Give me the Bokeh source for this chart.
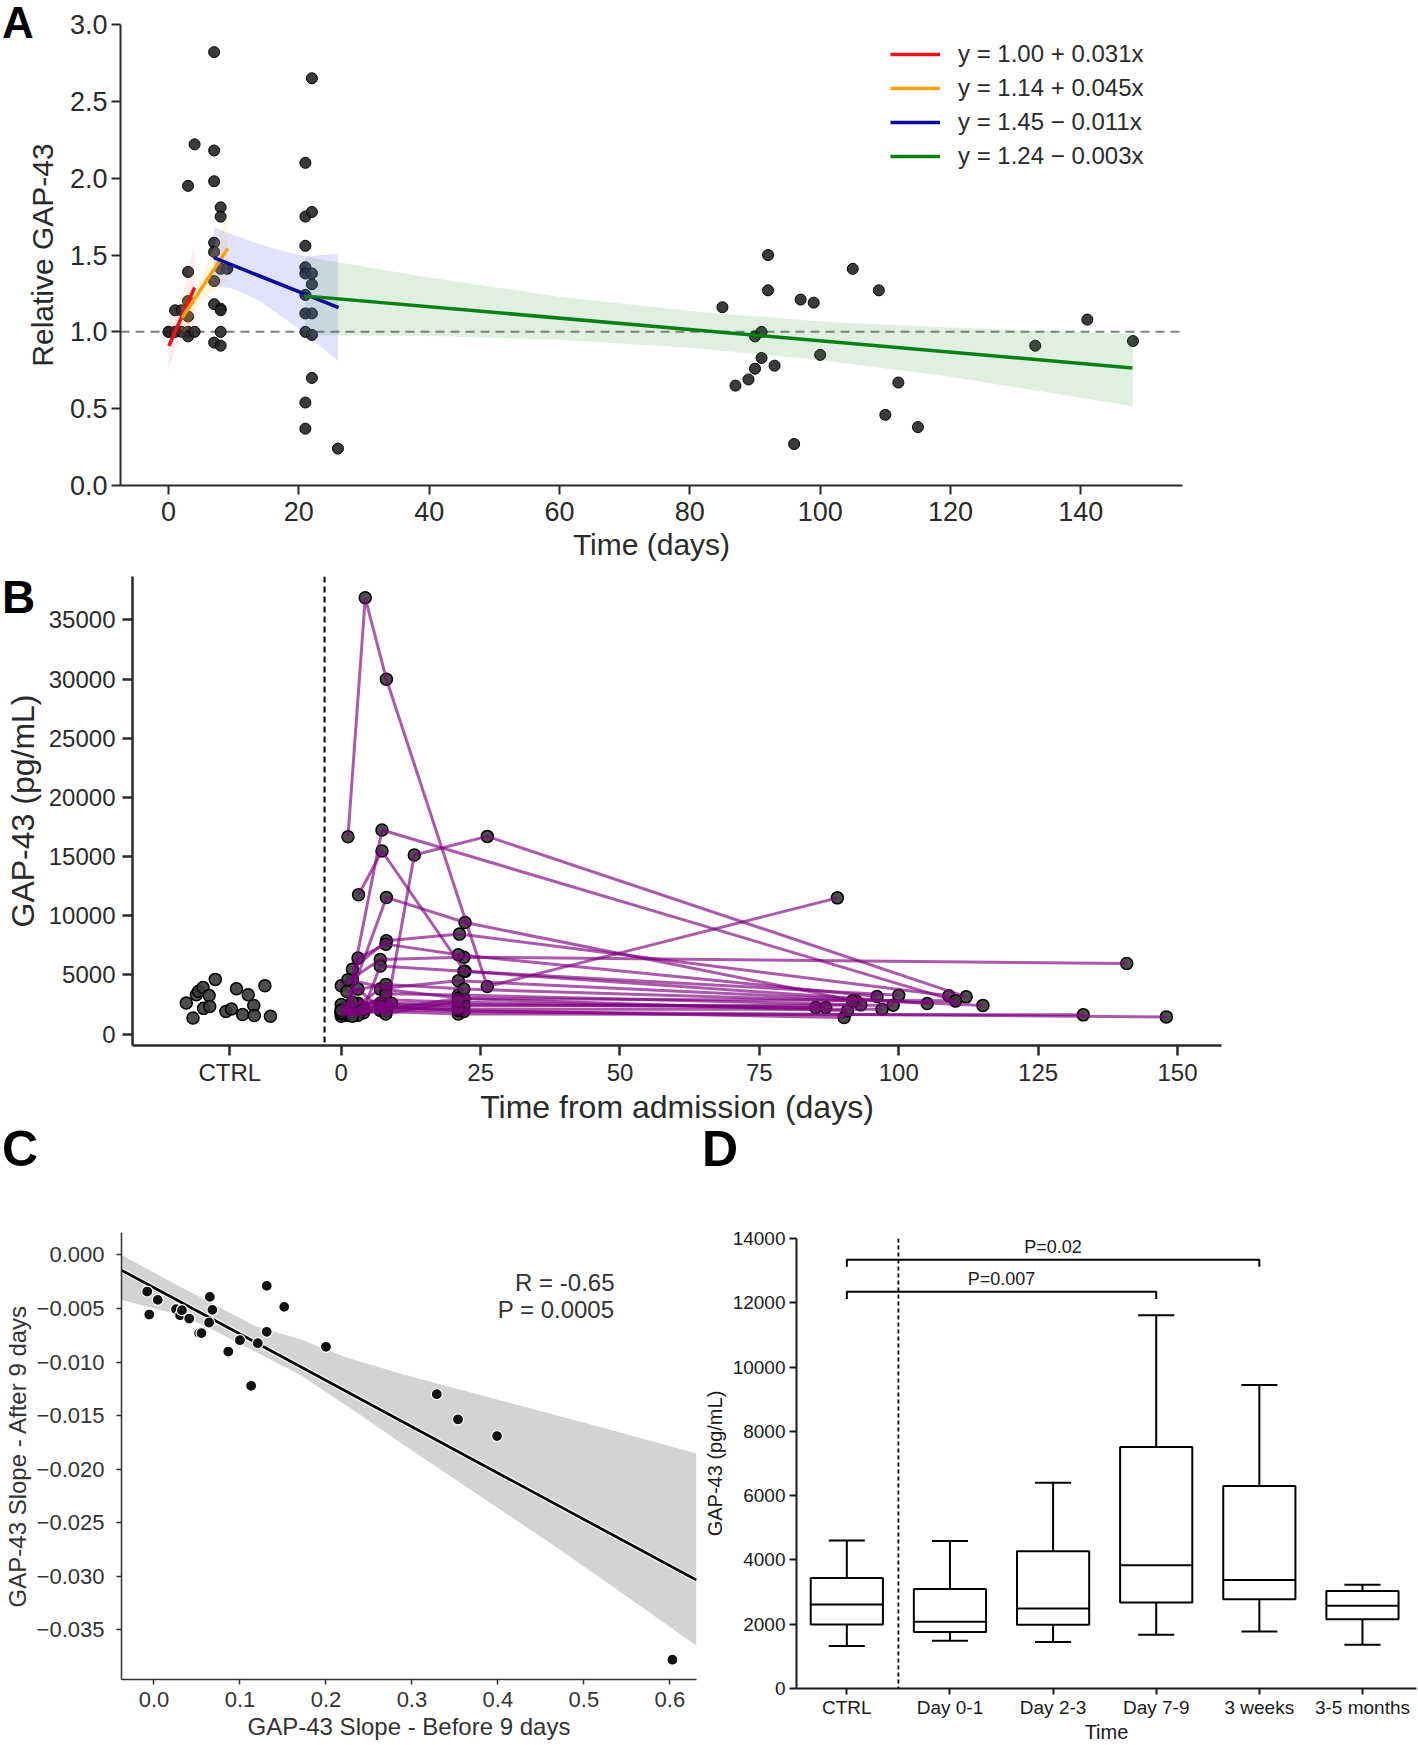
import numpy as np
from bokeh.plotting import figure
from bokeh.models import (Legend, LegendItem, Label, FixedTicker, Span, Range1d,
                          CustomJSTickFormatter, GridBox, Div)
from bokeh.core.properties import value
from bokeh.embed import file_html
from bokeh.resources import INLINE

FONT = "Liberation Sans"

# ---------------- Panel A data ----------------
a_days = [0, 0, 1, 1, 2, 2, 3, 3, 3, 3, 3, 3, 4, 4,
          7, 7, 7, 7, 7, 7, 7, 7, 8, 8, 8, 8, 8, 8, 8, 9,
          21, 21, 21, 21, 21, 21, 21, 21, 21, 21, 22, 22, 22, 22, 22, 22, 22, 26,
          85, 87, 89, 90, 90, 91, 91, 92, 92, 93, 96, 97, 99, 100, 105, 109, 110, 112, 115, 133, 141, 148]
a_rel = [1.0, 1.0, 1.0, 1.14, 1.0, 1.14, 1.0, 0.97, 1.10, 1.20, 1.39, 1.95, 1.0, 2.22,
         2.82, 2.18, 1.98, 1.58, 1.52, 1.33, 1.18, 0.93, 1.81, 1.75, 1.41, 1.15, 1.14, 1.0, 0.91, 1.41,
         2.10, 1.75, 1.56, 1.42, 1.38, 1.24, 1.12, 1.0, 0.54, 0.37, 2.65, 1.78, 1.38, 1.31, 1.12, 0.98, 0.70, 0.24,
         1.16, 0.65, 0.69, 0.76, 0.97, 1.0, 0.83, 1.50, 1.27, 0.78, 0.27, 1.21, 1.19, 0.85, 1.41, 1.27, 0.46, 0.67, 0.38, 0.91, 1.08, 0.94]
a_ref_level = 1.0

a_fit_labels = ["y = 1.00 + 0.031x", "y = 1.14 + 0.045x", "y = 1.45 \u2212 0.011x", "y = 1.24 \u2212 0.003x"]
a_fit_colors = ["#e8141c", "#ffa010", "#0a0a9c", "#0a7f14"]
a_band_colors = ["#ff4040", "#ffd740", "#4848ff", "#40a040"]
a_fit_x = [[0.05, 4.0], [2.1, 9.1], [6.95, 26.1], [20.8, 147.9]]
a_fit_y = [[0.908, 1.288], [1.092, 1.544], [1.483, 1.157], [1.234, 0.765]]
a_band_x = [[0.0, 2.0, 4.0], [2.0, 5.0, 9.0], [7, 10, 14, 18, 21, 26],
            [21, 40, 60, 80, 100, 120, 148]]
a_band_lo = [[0.75, 1.0, 1.0], [0.95, 1.2, 1.33], [1.30, 1.28, 1.20, 1.08, 0.99, 0.81],
             [0.978, 0.973, 0.949, 0.896, 0.817, 0.708, 0.515]]
a_band_hi = [[1.06, 1.2, 1.58], [1.2, 1.35, 1.76], [1.68, 1.63, 1.57, 1.52, 1.49, 1.51],
             [1.488, 1.353, 1.229, 1.136, 1.067, 1.028, 0.985]]
a_band_alpha = [0.10, 0.18, 0.16, 0.16]

# ---------------- Panel B data ----------------
ctrl_pos = -20
ctrl_x = [-27.8, -26.6, -26.0, -25.6, -24.8, -24.7, -23.7, -23.6, -22.6, -20.7, -19.7,
          -18.8, -17.7, -16.7, -15.7, -15.6, -13.7, -12.7]
ctrl_y = [2627, 1359, 3322, 3624, 3926, 2174, 3261, 2325, 4621, 1903, 2114,
          3835, 1661, 3322, 2416, 1570, 4077, 1510]
b_divider = -3
b_days = [
    [1.2, 4.3, 8.1, 26.2, 89.0],
    [2, 7.3, 110.2],
    [3.1, 7.3, 22.2, 100.0],
    [8.1, 13.1, 26.2, 112.1],
    [1, 8.1, 22.2, 92.3],
    [2, 8.1, 21.2, 109.0],
    [0, 7, 22, 140.9],
    [1, 3, 8, 21, 96.1],
    [0, 4, 7, 22, 105.1],
    [1.2, 8, 21, 115.1],
    [0, 3, 8, 21, 133.1],
    [1, 4, 7, 22, 148.0],
    [0, 2, 8, 21, 90.2],
    [0, 3, 7, 22, 90.8],
    [1, 3, 8, 21, 85.1],
    [0, 2, 7, 22, 86.9],
    [1, 4, 8, 21, 93.2],
    [0, 3, 7, 21, 97.0],
    [2, 8, 22, 99.0],
    [0, 3, 7, 21, 110.2],
    [1, 8, 22, 91.7],
    [0, 7, 21],
    [4, 8, 21],
    [0, 2, 9],
]
b_vals = [
    [16675, 36860, 29977, 4017, 11509],
    [4600, 17240, 2807],
    [11771, 15467, 5300, 3289],
    [2000, 15128, 16703, 3146],
    [2400, 11545, 9429, 2807],
    [5488, 7881, 8447, 3230],
    [4076, 6300, 6500, 5962],
    [1700, 6418, 7600, 6700, 3171],
    [1900, 2100, 5750, 5300, 2579],
    [4600, 3900, 4500, 2410],
    [1800, 2000, 1900, 1700, 1624],
    [1600, 1800, 2100, 1900, 1454],
    [1500, 2200, 2300, 2000, 1395],
    [2100, 2500, 3800, 3000, 1962],
    [2300, 2600, 2900, 2700, 2241],
    [1700, 1900, 2600, 2500, 2241],
    [2000, 2200, 3400, 3300, 2469],
    [1800, 3800, 2200, 2100, 2106],
    [2700, 2500, 2400, 2444],
    [2500, 1600, 2000, 3000, 2807],
    [3600, 4200, 3800, 2807],
    [1800, 2400, 2200],
    [2100, 1700, 2800],
    [2000, 1500, 2600],
]
b_xticks = [-20, 0, 25, 50, 75, 100, 125, 150]
b_yticks = [0, 5000, 10000, 15000, 20000, 25000, 30000, 35000]

# ---------------- Panel C data ----------------
c_before = [-0.0079, -0.0055, 0.0044, 0.0256, 0.0303, 0.0325, 0.041, 0.0525, 0.0552, 0.0649,
            0.0641, 0.0679, 0.0864, 0.0999, 0.1130, 0.1207, 0.1311, 0.1311, 0.1515, 0.2,
            0.3289, 0.3536, 0.399, 0.603]
c_after = [-0.00342, -0.00557, -0.0042, -0.00507, -0.00563, -0.00516, -0.00594, -0.0073, -0.0073, -0.00392,
           -0.00631, -0.00513, -0.00902, -0.00796, -0.01222, -0.00824, -0.00289, -0.00718, -0.00485, -0.00858,
           -0.0130, -0.01536, -0.01691, -0.03778]
c_fit_x = [-0.0378, 0.631]
c_fit_y = [-0.00143, -0.03035]
c_band_x = [-0.0378, 0.031, 0.066, 0.116, 0.17, 0.224, 0.289, 0.40, 0.4625, 0.55, 0.631]
c_band_hi = [0.0, -0.0030, -0.00445, -0.0066, -0.00787, -0.00958, -0.01113, -0.01352, -0.01486, -0.01674, -0.01853]
c_band_lo = [-0.0042, -0.00563, -0.0069, -0.00896, -0.0112, -0.01407, -0.01766, -0.02363, -0.02699, -0.03188, -0.03647]
c_stats = ["R = -0.65", "P = 0.0005"]
c_xticks = [0.0, 0.1, 0.2, 0.3, 0.4, 0.5, 0.6]
c_yticks = [0.0, -0.005, -0.01, -0.015, -0.02, -0.025, -0.03, -0.035]

# ---------------- Panel D data ----------------
d_groups = ["CTRL", "Day 0-1", "Day 2-3", "Day 7-9", "3 weeks", "3-5 months"]
d_low = [1324, 1485, 1448, 1671, 1770, 1362]
d_q1 = [1993, 1758, 1980, 2674, 2773, 2154]
d_med = [2612, 2080, 2488, 3837, 3379, 2575]
d_q3 = [3441, 3094, 4270, 7513, 6300, 3033]
d_high = [4605, 4592, 6399, 11610, 9444, 3231]
d_brackets_from = [0, 0]
d_brackets_to = [3, 4]
d_brackets_y = [12340, 13340]
d_brackets_text = ["P=0.007", "P=0.02"]
d_yticks = [0, 2000, 4000, 6000, 8000, 10000, 12000, 14000]


def style_axes(p, tick_size, title_size, color, lw, tick_out, lab_off, title_off):
    for ax in p.axis:
        ax.axis_line_color = color
        ax.axis_line_width = lw
        ax.major_tick_line_color = color
        ax.major_tick_line_width = lw
        ax.major_tick_out = tick_out
        ax.major_tick_in = 0
        ax.minor_tick_line_color = None
        ax.major_label_text_font = FONT
        ax.major_label_text_font_size = f"{tick_size}px"
        ax.major_label_text_color = color
        ax.axis_label_text_font = FONT
        ax.axis_label_text_font_size = f"{title_size}px"
        ax.axis_label_text_font_style = "normal"
        ax.axis_label_text_color = color
        ax.major_label_standoff = lab_off
        ax.axis_label_standoff = title_off
    p.grid.visible = False
    p.outline_line_color = None


def letter_div(text, size, dx, dy):
    html = (f'<div style="position:relative; left:{dx}px; top:{dy}px; margin:0; padding:0; '
            f'font-family:\'{FONT}\'; font-weight:bold; font-size:{size}px; line-height:{size}px; '
            f'color:black;">{text}</div>')
    return Div(text=html, width=60, height=60, margin=0)


# ================= Panel A =================
pA = figure(width=1418, height=568, x_range=Range1d(-7.37, 155.6), y_range=Range1d(0, 3.0),
            output_backend="svg", toolbar_location=None, frame_align=False,
            min_border_left=120, min_border_right=236, min_border_top=24, min_border_bottom=83)
pA.xaxis.axis_label = "Time (days)"
pA.yaxis.axis_label = "Relative GAP-43"
pA.xaxis.ticker = FixedTicker(ticks=[0, 20, 40, 60, 80, 100, 120, 140])
pA.yaxis.ticker = FixedTicker(ticks=[0.0, 0.5, 1.0, 1.5, 2.0, 2.5, 3.0])
pA.yaxis.formatter = CustomJSTickFormatter(code="return tick.toFixed(1)")
style_axes(pA, 27, 30, "#2a2a2a", 2, 9, 4, 2)
pA.xaxis.major_label_standoff = 7
pA.xaxis.axis_label_standoff = 4
pA.yaxis.axis_label_standoff = 8
pA.add_layout(Span(location=a_ref_level, dimension="width", line_color="#808080",
                   line_dash="9 6", line_width=2, level="underlay"))
pA.scatter(a_days, a_rel, size=11, fill_color="#262626", fill_alpha=0.9,
           line_color="black", line_width=1)
fit_renderers = []
for i in range(4):
    pA.varea(x=a_band_x[i], y1=a_band_lo[i], y2=a_band_hi[i],
             fill_color=a_band_colors[i], fill_alpha=a_band_alpha[i])
for i in range(4):
    r = pA.line(a_fit_x[i], a_fit_y[i], line_color=a_fit_colors[i], line_width=3.5)
    fit_renderers.append(r)
legA = Legend(items=[LegendItem(label=a_fit_labels[i], renderers=[fit_renderers[i]]) for i in range(4)],
              location=(770, 315), orientation="vertical", padding=0, margin=0, spacing=6,
              glyph_width=50, glyph_height=28, label_height=28, label_standoff=18,
              label_text_font=FONT, label_text_font_size="24px", label_text_color="#2a2a2a",
              border_line_alpha=0, background_fill_alpha=0)
pA.add_layout(legA, "center")

# ================= Panel B =================
pB = figure(width=1418, height=560, x_range=Range1d(-37.45, 157.9), y_range=Range1d(-964, 38660),
            output_backend="svg", toolbar_location=None, frame_align=False,
            min_border_left=132, min_border_right=197, min_border_top=8, min_border_bottom=83)
pB.xaxis.axis_label = "Time from admission (days)"
pB.yaxis.axis_label = "GAP-43 (pg/mL)"
pB.xaxis.ticker = FixedTicker(ticks=b_xticks)
pB.xaxis.major_label_overrides = {ctrl_pos: "CTRL"}
pB.yaxis.ticker = FixedTicker(ticks=b_yticks)
style_axes(pB, 24, 32, "#2a2a2a", 2.5, 10, 3, 0)
pB.yaxis.major_label_standoff = 7
pB.yaxis.axis_label_standoff = 5
pB.add_layout(Span(location=b_divider, dimension="height", line_color="black",
                   line_dash="6 4", line_width=2))
pB.scatter(ctrl_x, ctrl_y, size=12, fill_color="#3a3a3a", fill_alpha=0.9,
           line_color="black", line_width=1.5)
flat_x = [d for seq in b_days for d in seq]
flat_y = [v for seq in b_vals for v in seq]
pB.scatter(flat_x, flat_y, size=12, fill_color="#3a3a3a", fill_alpha=0.9,
           line_color="black", line_width=1.5)
pB.multi_line(xs=b_days, ys=b_vals, line_color="#800080", line_alpha=0.65, line_width=3)

# ================= Panel C =================
pC = figure(width=700, height=617, x_range=Range1d(-0.0378, 0.631), y_range=Range1d(-0.03963, 0.00209),
            output_backend="svg", toolbar_location=None, frame_align=False,
            min_border_left=117, min_border_right=4, min_border_top=104, min_border_bottom=66)
pC.xaxis.axis_label = "GAP-43 Slope - Before 9 days"
pC.yaxis.axis_label = "GAP-43 Slope - After 9 days"
pC.xaxis.ticker = FixedTicker(ticks=c_xticks)
pC.yaxis.ticker = FixedTicker(ticks=c_yticks)
pC.xaxis.formatter = CustomJSTickFormatter(code="return tick.toFixed(1)")
pC.yaxis.formatter = CustomJSTickFormatter(
    code="return (tick < 0 ? '\u2212' : '') + Math.abs(tick).toFixed(3)")
style_axes(pC, 22, 24, "#333333", 1.5, 5, 7, 3)
pC.yaxis.major_label_standoff = 12
pC.yaxis.axis_label_standoff = 3
pC.varea(x=c_band_x, y1=c_band_lo, y2=c_band_hi, fill_color="#d3d3d3", fill_alpha=1.0)
pC.line(c_fit_x, c_fit_y, line_color="white", line_width=5)
pC.line(c_fit_x, c_fit_y, line_color="black", line_width=2.8)
pC.scatter(c_before, c_after, size=11, fill_color="#111111", line_color="white", line_width=1.2)
for i, txt in enumerate(c_stats):
    pC.add_layout(Label(x=493, y=397 - 27 * i, x_units="screen", y_units="screen", text=txt,
                        text_font=FONT, text_font_size="24px", text_color="#333333",
                        text_align="right", text_baseline="alphabetic"))

# ================= Panel D =================
pD = figure(width=718, height=617, x_range=Range1d(-0.488, 5.524), y_range=Range1d(0, 14000),
            output_backend="svg", toolbar_location=None, frame_align=False,
            min_border_left=96, min_border_right=2, min_border_top=110, min_border_bottom=56)
pD.xaxis.axis_label = "Time"
pD.yaxis.axis_label = "GAP-43 (pg/mL)"
pD.xaxis.ticker = FixedTicker(ticks=list(range(len(d_groups))))
pD.xaxis.major_label_overrides = {i: g for i, g in enumerate(d_groups)}
pD.yaxis.ticker = FixedTicker(ticks=d_yticks)
style_axes(pD, 19, 20, "#1a1a1a", 2, 6, 2, 0)
pD.yaxis.major_tick_out = 7
pD.yaxis.major_label_standoff = 4
pD.yaxis.axis_label_standoff = 4
pos = np.arange(len(d_groups))
box_half, cap_half = 0.35, 0.175
pD.add_layout(Span(location=0.5, dimension="height", line_color="black",
                   line_dash="4 3", line_width=1.8))
pD.segment(x0=pos, y0=d_q3, x1=pos, y1=d_high, line_color="black", line_width=2)
pD.segment(x0=pos, y0=d_q1, x1=pos, y1=d_low, line_color="black", line_width=2)
pD.segment(x0=pos - cap_half, y0=d_high, x1=pos + cap_half, y1=d_high, line_color="black", line_width=2)
pD.segment(x0=pos - cap_half, y0=d_low, x1=pos + cap_half, y1=d_low, line_color="black", line_width=2)
pD.quad(left=pos - box_half, right=pos + box_half, bottom=d_q1, top=d_q3,
        fill_color="white", line_color="black", line_width=2)
pD.segment(x0=pos - box_half, y0=d_med, x1=pos + box_half, y1=d_med, line_color="black", line_width=2)
drop = 220
br_xs = [[a, a, b, b] for a, b in zip(d_brackets_from, d_brackets_to)]
br_ys = [[y - drop, y, y, y - drop] for y in d_brackets_y]
pD.multi_line(xs=br_xs, ys=br_ys, line_color="black", line_width=2)
pD.text(x=[(a + b) / 2 for a, b in zip(d_brackets_from, d_brackets_to)],
        y=[y + 400 for y in d_brackets_y], text=d_brackets_text,
        text_font=value(FONT), text_font_size=value("18px"), text_color="#1a1a1a",
        text_align="center", text_baseline="alphabetic")

# ================= Layout with panel letters =================
divA = letter_div("A", 44, 2, 1)
divB = letter_div("B", 46, 2, 6)
divC = letter_div("C", 50, 2, -4)
divD = letter_div("D", 50, 2, -4)

layout = GridBox(children=[(pA, 0, 0, 1, 2), (pB, 1, 0, 1, 2), (pC, 2, 0), (pD, 2, 1),
                           (divA, 0, 0), (divB, 1, 0), (divC, 2, 0), (divD, 2, 1)],
                 spacing=0)
open("out.html", "w").write(file_html(layout, INLINE, title="GAP-43"))
